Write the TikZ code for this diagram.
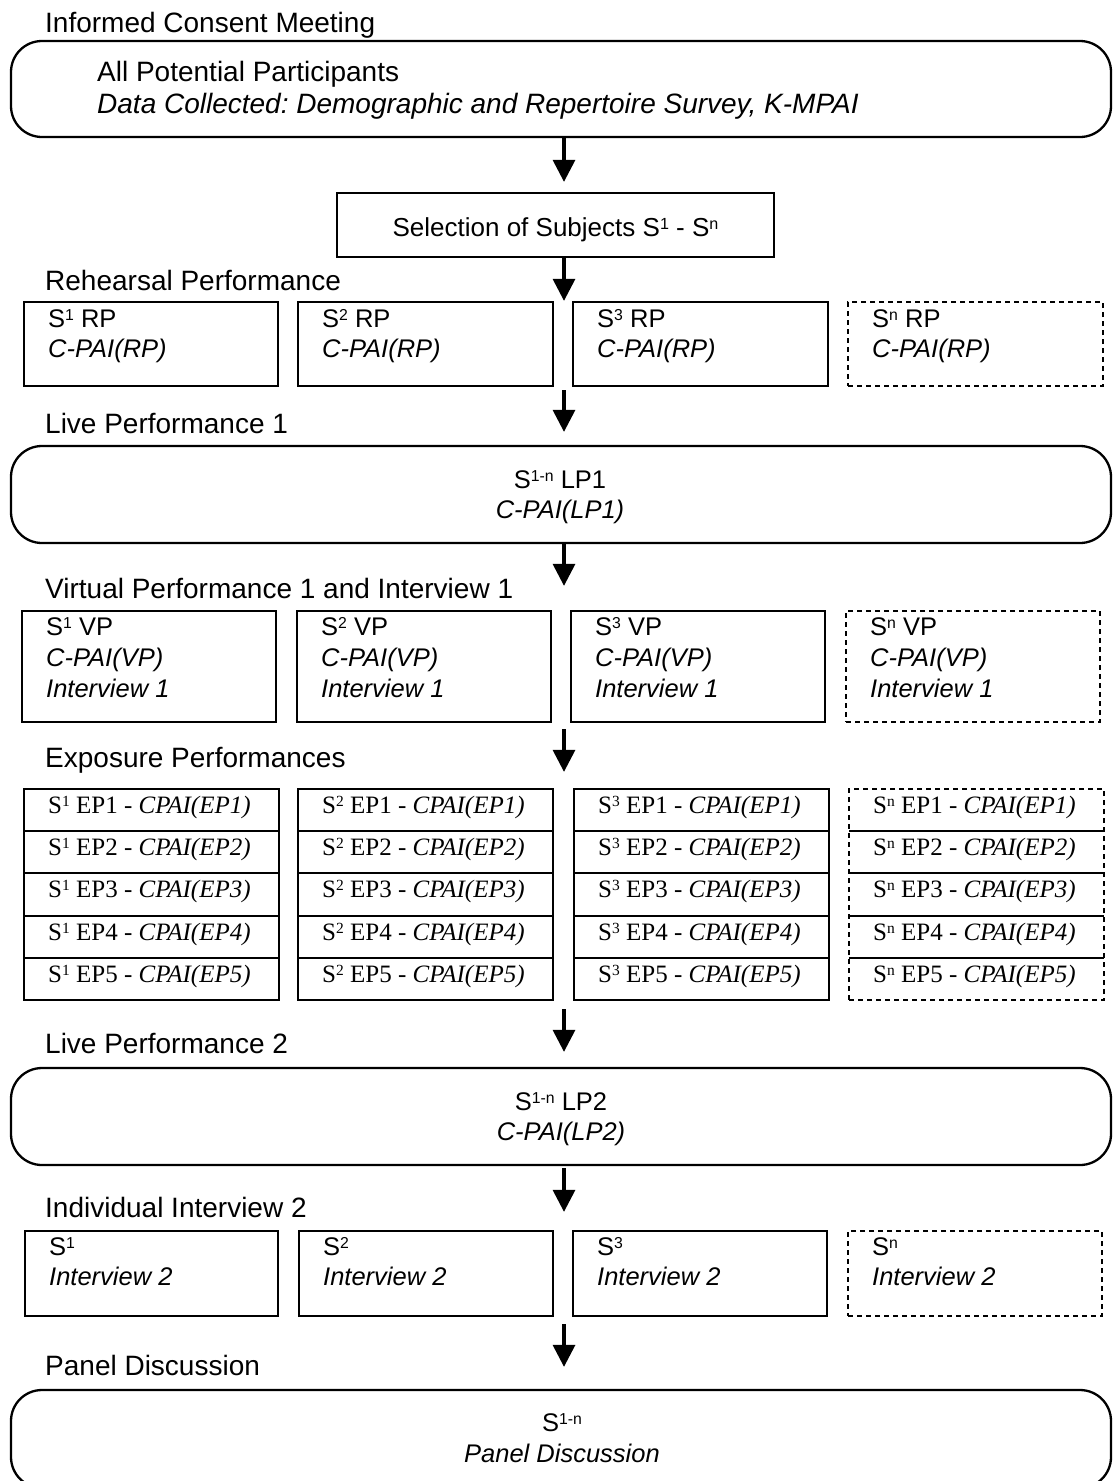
\documentclass[tikz,border=0pt]{standalone}
\usepackage{fontspec}
\setmainfont{Liberation Sans}
\newfontfamily\seriffont{Liberation Serif}
\usetikzlibrary{arrows.meta}
\frenchspacing
\makeatletter
\newcommand\sps[1]{\raisebox{0.26em}{\fontsize{\strip@pt\dimexpr0.62\dimexpr\f@size pt\relax\relax}{0}\selectfont#1}}
\makeatother
\newcommand\mybox[6]{%
  \node[#6, minimum width={(#4-#2)*1pt}, minimum height={(#5-#3)*1pt}] (#1) at ({(#2+#4)/2},{(#3+#5)/2}) {};}
\tikzset{
  hd/.style={anchor=base west, inner sep=0pt, font=\fontsize{28}{34}\selectfont},
  tt/.style={anchor=base west, inner sep=0pt, font=\fontsize{28}{34}\selectfont},
  bt/.style={anchor=base west, inner sep=0pt, font=\fontsize{25.5}{31}\selectfont},
  bc/.style={anchor=base, inner sep=0pt, font=\fontsize{25.5}{31}\selectfont},
  et/.style={anchor=base west, inner sep=0pt, font=\seriffont\fontsize{25}{30}\selectfont},
  sqbox/.style={draw, line width=2.3pt, inner sep=0pt},
  dbox/.style={sqbox, dash pattern=on 5pt off 4pt},
  rbox/.style={sqbox, rounded corners=31pt},
  arr/.style={line width=3.3pt, -{Triangle[length=22pt,width=22pt]}},
}
\begin{document}
\begin{tikzpicture}[x=1pt,y=-1pt]
\clip (0,0) rectangle (1115,1481);
\fill[white] (0,0) rectangle (1115,1481);
\coordinate (ax) at (564,0);

% ---------- Informed consent
\node[hd] (h1) at (45,32) {Informed Consent Meeting};
\mybox{top}{11}{41}{1111}{137}{rbox}
\node[tt] (top-a) at (97,81) {All Potential Participants};
\node[tt] (top-b) at (97,113) {\textit{Data Collected: Demographic and Repertoire Survey, K-MPAI}};

% ---------- Selection
\mybox{sel}{337}{193}{774}{257}{sqbox}
\node[anchor=base, inner sep=0pt, font=\fontsize{26}{31}\selectfont] (sel-t) at (555.5,236) {Selection of Subjects S\sps{1} - S\sps{n}};

% ---------- Rehearsal
\node[hd] (h2) at (45,290) {Rehearsal Performance};
\foreach \i/\l/\r in {1/24/278,2/298/553,3/573/828}{
  \mybox{rp\i}{\l}{302}{\r}{386}{sqbox}
}
\mybox{rpn}{848}{302}{1103}{386}{dbox}
\foreach \i/\l in {1/24,2/298,3/573,n/848}{
  \node[bt] (rp\i-a) at ({\l+24},327) {S\sps{\i} RP};
  \node[bt] (rp\i-b) at ({\l+24},357) {\textit{C-PAI(RP)}};
}

% ---------- Live 1
\node[hd] (h3) at (45,433) {Live Performance 1};
\mybox{lp1}{11}{446}{1111}{543}{rbox}
\node[bc] (lp1-a) at (560,488) {S\sps{1-n} LP1};
\node[bc] (lp1-b) at (560,518) {\textit{C-PAI(LP1)}};

% ---------- Virtual
\node[hd] (h4) at (45,598) {Virtual Performance 1 and Interview 1};
\foreach \i/\l/\r in {1/22/276,2/297/551,3/571/825}{
  \mybox{vp\i}{\l}{611}{\r}{722}{sqbox}
}
\mybox{vpn}{846}{611}{1100}{722}{dbox}
\foreach \i/\l in {1/22,2/297,3/571,n/846}{
  \node[bt] (vp\i-a) at ({\l+24},635) {S\sps{\i} VP};
  \node[bt] (vp\i-b) at ({\l+24},666) {\textit{C-PAI(VP)}};
  \node[bt] (vp\i-c) at ({\l+24},697) {\textit{Interview 1}};
}

% ---------- Exposure
\node[hd] (h5) at (45,767) {Exposure Performances};
\foreach \i/\l/\r in {1/24/279,2/298/553,3/574/829}{
  \mybox{ep\i}{\l}{789}{\r}{1000}{sqbox}
}
\mybox{epn}{849}{789}{1104}{1000}{dbox}
\foreach \l/\r in {24/279,298/553,574/829,849/1104}{
  \foreach \yy in {831,873,916,958}{
    \draw[line width=2.3pt] ({\l},\yy) -- ({\r},\yy);
  }
}
\foreach \i/\l in {1/24,2/298,3/574,n/849}{
  \foreach \k/\yy in {1/789,2/831,3/873,4/916,5/958}{
    \node[et] (ep\i-\k) at ({\l+24},{\yy+24}) {S\sps{\i} EP\k\ - \textit{CPAI(EP\k)}};
  }
}

% ---------- Live 2
\node[hd] (h6) at (45,1053) {Live Performance 2};
\mybox{lp2}{11}{1068}{1111}{1165}{rbox}
\node[bc] (lp2-a) at (561,1110) {S\sps{1-n} LP2};
\node[bc] (lp2-b) at (561,1140) {\textit{C-PAI(LP2)}};

% ---------- Interview 2
\node[hd] (h7) at (45,1217) {Individual Interview 2};
\foreach \i/\l/\r in {1/25/278,2/299/553,3/573/827}{
  \mybox{ii\i}{\l}{1231}{\r}{1316}{sqbox}
}
\mybox{iin}{848}{1231}{1102}{1316}{dbox}
\foreach \i/\l in {1/25,2/299,3/573,n/848}{
  \node[bt] (ii\i-a) at ({\l+24},1255) {S\sps{\i}};
  \node[bt] (ii\i-b) at ({\l+24},1285) {\textit{Interview 2}};
}

% ---------- Panel
\node[hd] (h8) at (45,1375) {Panel Discussion};
\mybox{pan}{11}{1390}{1111}{1488}{rbox}
\node[bc] (pan-a) at (562,1431) {S\sps{1-n}};
\node[bc] (pan-b) at (562,1462) {\textit{Panel Discussion}};

% ---------- Arrows
\draw[arr, shorten >=10pt] (top.south -| ax) -- (sel.north -| ax);
\draw[arr] (sel.south -| ax) -- (rp2.north -| ax);
\draw[arr, shorten <=3pt, shorten >=13pt] (rp2.south -| ax) -- (lp1.north -| ax);
\draw[arr, shorten >=24pt] (lp1.south -| ax) -- (vp2.north -| ax);
\draw[arr, shorten <=6pt, shorten >=16pt] (vp2.south -| ax) -- (ep2.north -| ax);
\draw[arr, shorten <=8pt, shorten >=15pt] (ep2.south -| ax) -- (lp2.north -| ax);
\draw[arr, shorten <=2pt, shorten >=18pt] (lp2.south -| ax) -- (ii2.north -| ax);
\draw[arr, shorten <=7pt, shorten >=22pt] (ii2.south -| ax) -- (pan.north -| ax);
\end{tikzpicture}
\end{document}
